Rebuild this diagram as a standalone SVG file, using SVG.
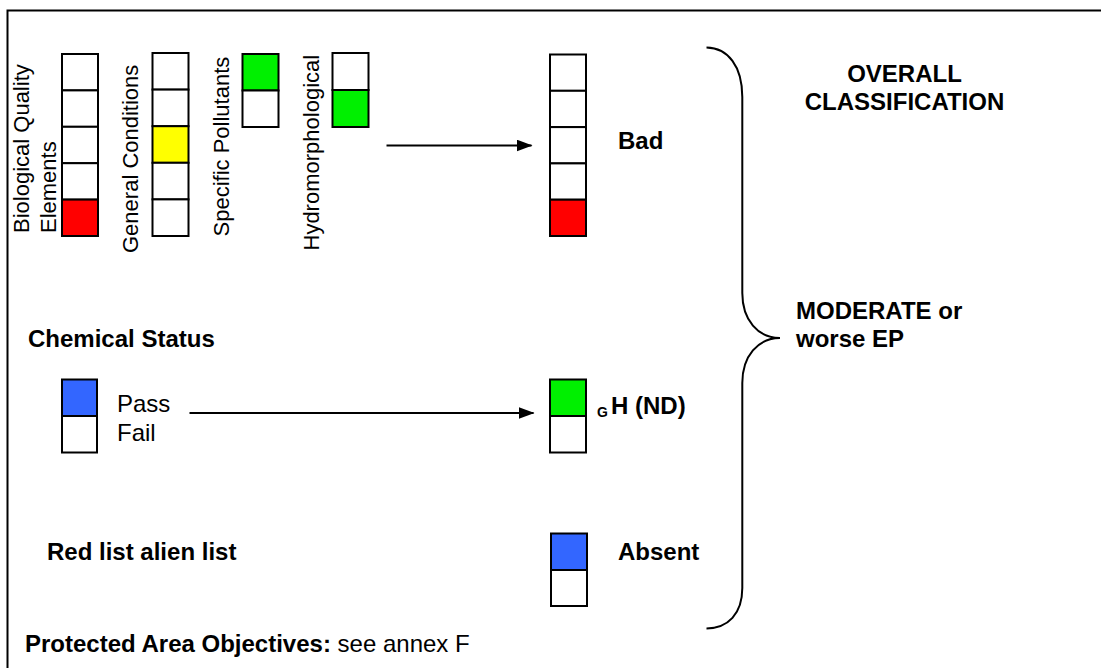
<svg xmlns="http://www.w3.org/2000/svg" width="1101" height="668" viewBox="0 0 1101 668">
<style>
  .t{font-family:"Liberation Sans",Arial,sans-serif;font-size:22px;fill:#000}
  .h{font-family:"Liberation Sans",Arial,sans-serif;font-size:24px;fill:#000}
  .b{font-family:"Liberation Sans",Arial,sans-serif;font-size:24px;font-weight:bold;fill:#000}
  .c{stroke:#000;stroke-width:2}
  .w{fill:#fff}
  .red{fill:#ff0000}
  .yel{fill:#ffff00}
  .grn{fill:#00f000}
  .blu{fill:#3366ff}
  .ln{stroke:#000;stroke-width:2;fill:none}
</style>
<defs>
  <marker id="ah" markerWidth="16" markerHeight="12" refX="15" refY="6" orient="auto" markerUnits="userSpaceOnUse">
    <path d="M0,0 L16,6 L0,12 Z" fill="#000"/>
  </marker>
</defs>
<rect width="1101" height="668" fill="#fff"/>
<path d="M7.5,668 L7.5,10.5 L1101,10.5" class="ln"/>

<g id="bio">
  <rect x="62" y="54" width="36" height="36.4" class="c w"/>
  <rect x="62" y="90.4" width="36" height="36.4" class="c w"/>
  <rect x="62" y="126.8" width="36" height="36.4" class="c w"/>
  <rect x="62" y="163.2" width="36" height="36.4" class="c w"/>
  <rect x="62" y="199.6" width="36" height="36.4" class="c red"/>
  <text class="t" transform="translate(28.5,233) rotate(-90)">Biological Quality</text>
  <text class="t" transform="translate(56,233) rotate(-90)">Elements</text>
</g>

<g id="general">
  <rect x="152.5" y="53" width="36" height="36.6" class="c w"/>
  <rect x="152.5" y="89.6" width="36" height="36.6" class="c w"/>
  <rect x="152.5" y="126.2" width="36" height="36.6" class="c yel"/>
  <rect x="152.5" y="162.8" width="36" height="36.6" class="c w"/>
  <rect x="152.5" y="199.4" width="36" height="36.6" class="c w"/>
  <text class="t" transform="translate(137.5,253) rotate(-90)">General Conditions</text>
</g>

<g id="specific">
  <rect x="242.5" y="54" width="36" height="36.5" class="c grn"/>
  <rect x="242.5" y="90.5" width="36" height="36.5" class="c w"/>
  <text class="t" transform="translate(228.5,236.5) rotate(-90)">Specific Pollutants</text>
</g>

<g id="hydro">
  <rect x="332.5" y="53" width="36" height="37" class="c w"/>
  <rect x="332.5" y="90" width="36" height="37" class="c grn"/>
  <text class="t" transform="translate(318.5,250.5) rotate(-90)">Hydromorphological</text>
</g>

<g id="result-bad">
  <rect x="550" y="54.5" width="36" height="36.3" class="c w"/>
  <rect x="550" y="90.8" width="36" height="36.3" class="c w"/>
  <rect x="550" y="127.1" width="36" height="36.3" class="c w"/>
  <rect x="550" y="163.4" width="36" height="36.3" class="c w"/>
  <rect x="550" y="199.7" width="36" height="36.3" class="c red"/>
  <text class="b" x="618" y="149">Bad</text>
</g>

<g id="chemical">
  <text class="b" x="28" y="347">Chemical Status</text>
  <rect x="62" y="379.5" width="35" height="36.5" class="c blu"/>
  <rect x="62" y="416" width="35" height="36.5" class="c w"/>
  <text class="h" x="117" y="412">Pass</text>
  <text class="h" x="117" y="440.5">Fail</text>
</g>

<g id="result-gh">
  <rect x="550" y="379.5" width="36" height="36.5" class="c grn"/>
  <rect x="550" y="416" width="36" height="36.5" class="c w"/>
  <text class="b"><tspan font-size="14" x="597" y="417">G</tspan><tspan x="611" y="413.5">H (ND)</tspan></text>
</g>

<g id="redlist">
  <text class="b" x="47" y="560">Red list alien list</text>
</g>

<g id="result-absent">
  <rect x="551" y="533.5" width="36" height="36.5" class="c blu"/>
  <rect x="551" y="570" width="36" height="36" class="c w"/>
  <text class="b" x="618" y="560">Absent</text>
</g>

<g id="overall">
  <text class="b" x="904.5" y="81.5" text-anchor="middle">OVERALL</text>
  <text class="b" x="904.5" y="110" text-anchor="middle">CLASSIFICATION</text>
  <text class="b" x="796" y="318.5">MODERATE or</text>
  <text class="b" x="796" y="347">worse EP</text>
</g>

<g id="brace">
  <path class="ln" d="M706.5,47.5 C728,48 742.3,66 742.3,97 L742.3,293 C742.3,320 758,338 780,338 C758,338 742.3,356 742.3,383 L742.3,588 C742.3,614 728,628 706.5,628.5"/>
</g>

<g id="connectors">
  <line x1="386.5" y1="145.5" x2="531.5" y2="145.5" class="ln" marker-end="url(#ah)"/>
  <line x1="189.5" y1="413" x2="533.5" y2="413" class="ln" marker-end="url(#ah)"/>
</g>

<g id="footer">
  <text class="h" x="25" y="652"><tspan font-weight="bold">Protected Area Objectives:</tspan> see annex F</text>
</g>
</svg>
